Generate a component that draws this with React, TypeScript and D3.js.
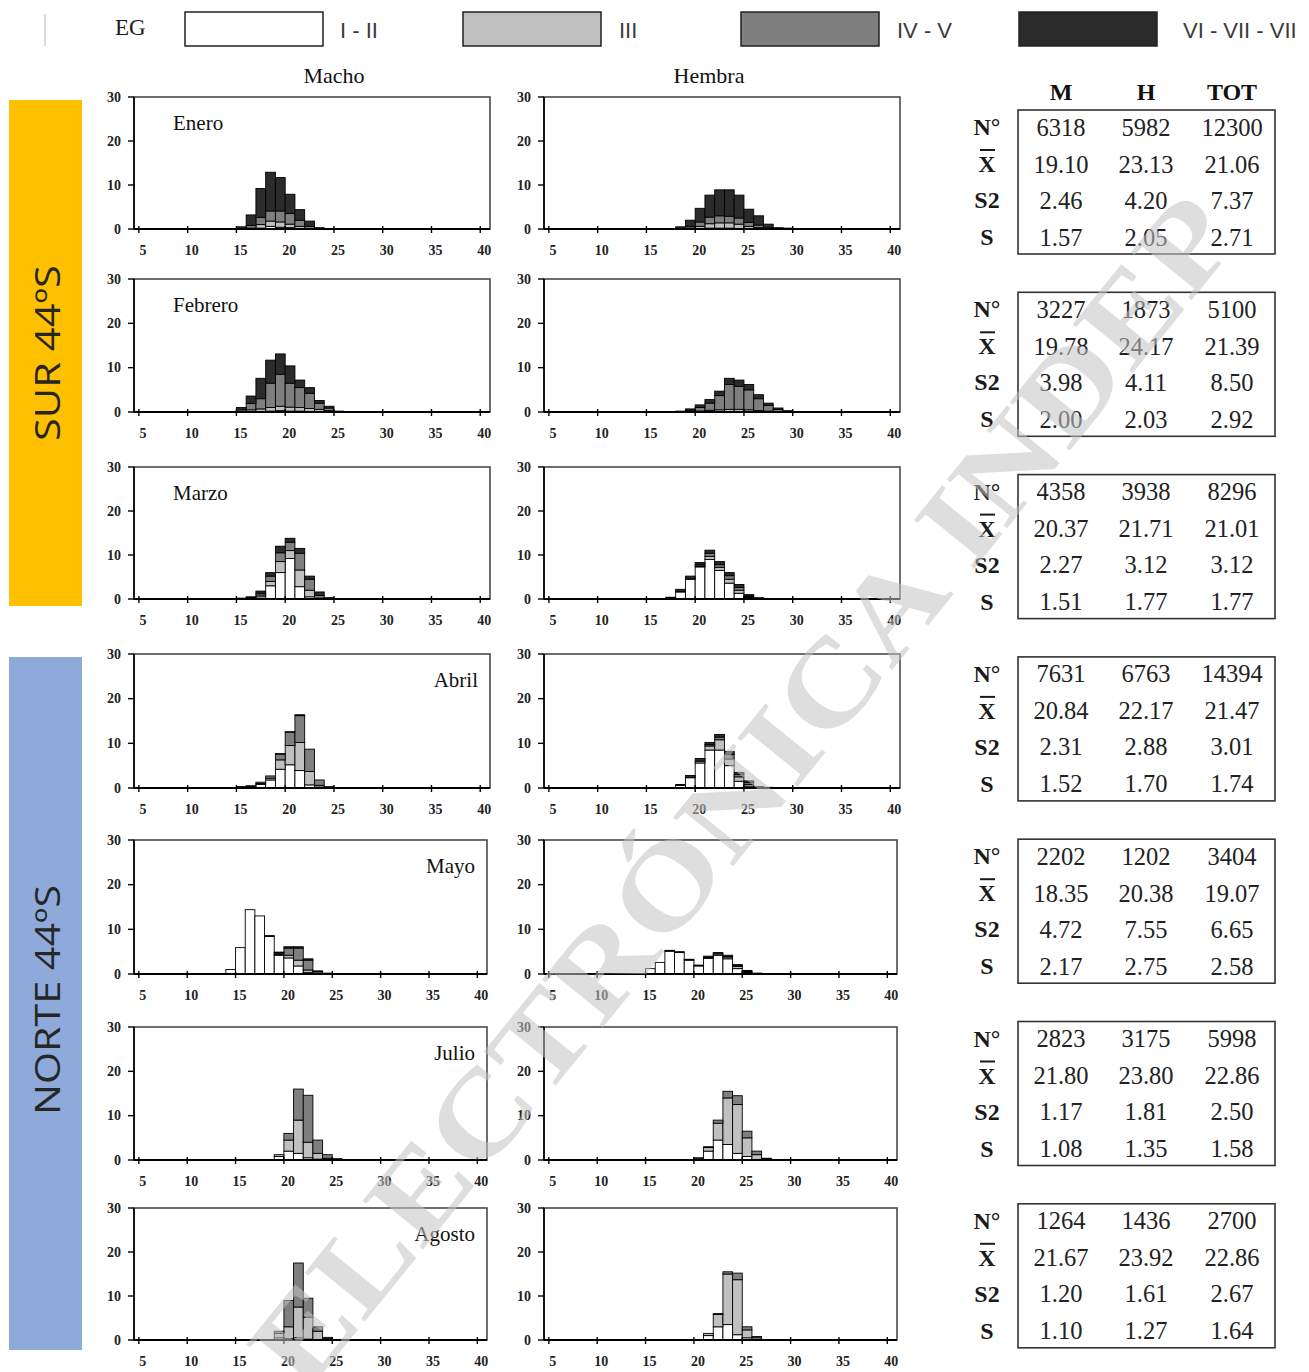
import React from 'react';
import * as d3 from 'd3';

// Each row: [length bin start, I-II, III, IV-V, VI-VII-VIII] (% of month total)
type Row = [number, number, number, number, number];

const stageKeys = ['I', 'III', 'IV', 'VI'];
const stageLabels = ['I - II', 'III', 'IV - V', 'VI - VII - VII'];
const stageFills = ['#ffffff', '#c0c0c0', '#7f7f7f', '#2b2b2b'];

const months = ['Enero', 'Febrero', 'Marzo', 'Abril', 'Mayo', 'Julio', 'Agosto'];
const xTicks = [5, 10, 15, 20, 25, 30, 35, 40];
const yTicks = [0, 10, 20, 30];

const eneroMacho: Row[] = [
  [14, 0, 0, 0, 0.1], [15, 0, 0, 0.1, 0.4], [16, 0, 0.2, 0.6, 2.4], [17, 0.2, 0.8, 1.6, 6.6],
  [18, 0.6, 1.2, 2.3, 8.8], [19, 0.4, 1.2, 2.5, 7.6], [20, 0.3, 0.8, 2.4, 4.4], [21, 0.1, 0.5, 1.4, 2.4],
  [22, 0, 0.1, 0.5, 1.2], [23, 0, 0, 0.1, 0.2], [24, 0, 0, 0, 0.1], [25, 0, 0, 0, 0.1], [26, 0, 0, 0, 0.05],
];
const eneroHembra: Row[] = [
  [16, 0, 0, 0, 0.05], [17, 0, 0, 0, 0.1], [18, 0, 0, 0.1, 0.4], [19, 0, 0.2, 0.4, 1.4],
  [20, 0.1, 0.5, 1.0, 3.1], [21, 0.2, 1.0, 1.5, 5.0], [22, 0.2, 1.2, 1.6, 5.9], [23, 0.2, 1.2, 1.5, 6.0],
  [24, 0.1, 1.0, 1.4, 5.2], [25, 0.1, 0.5, 0.9, 3.0], [26, 0, 0.3, 0.6, 2.1], [27, 0, 0.1, 0.2, 0.8],
  [28, 0, 0, 0.1, 0.2], [29, 0, 0, 0, 0.2], [30, 0, 0, 0, 0.1], [31, 0, 0, 0, 0.1],
];
const febreroMacho: Row[] = [
  [14, 0, 0, 0, 0.1], [15, 0, 0.1, 0.4, 0.5], [16, 0.1, 0.4, 1.4, 1.7], [17, 0.1, 0.6, 2.3, 4.6],
  [18, 0.2, 0.8, 5.5, 5.2], [19, 0.3, 1.0, 7.2, 4.6], [20, 0.2, 0.9, 5.4, 3.9], [21, 0.2, 0.8, 4.5, 1.7],
  [22, 0.1, 0.7, 3.4, 1.3], [23, 0.1, 0.5, 1.4, 0.6], [24, 0, 0.3, 0.6, 0.4], [25, 0, 0, 0.1, 0.1],
  [26, 0, 0, 0, 0.1], [27, 0, 0, 0, 0.1],
];
const febreroHembra: Row[] = [
  [16, 0, 0, 0, 0.05], [17, 0, 0, 0, 0.1], [18, 0, 0, 0.1, 0.1], [19, 0, 0.1, 0.3, 0.3],
  [20, 0, 0.2, 0.8, 0.6], [21, 0.1, 0.3, 1.6, 0.8], [22, 0.1, 0.4, 3.2, 1.0], [23, 0.1, 0.5, 5.6, 1.4],
  [24, 0.1, 0.5, 5.2, 1.4], [25, 0.1, 0.4, 4.5, 1.2], [26, 0, 0.3, 2.7, 0.9], [27, 0, 0.2, 1.3, 0.5],
  [28, 0, 0.1, 0.5, 0.3], [29, 0, 0, 0.1, 0.2], [30, 0, 0, 0, 0.1], [31, 0, 0, 0, 0.1],
];
const marzoMacho: Row[] = [
  [8, 0.05, 0, 0, 0], [9, 0.05, 0, 0, 0], [14, 0, 0, 0, 0.1], [15, 0.05, 0, 0.05, 0.1],
  [16, 0.1, 0.1, 0.1, 0.2], [17, 0.5, 0.4, 0.4, 0.5], [18, 3.0, 1.0, 1.2, 0.8], [19, 6.0, 2.5, 2.0, 1.5],
  [20, 9.2, 1.8, 1.9, 0.9], [21, 2.8, 3.8, 3.8, 1.1], [22, 0.5, 1.5, 2.5, 0.7], [23, 0, 0.2, 0.6, 0.8],
  [24, 0, 0, 0.1, 0.2], [25, 0, 0, 0, 0.1], [26, 0, 0, 0, 0.1], [27, 0, 0, 0, 0.1],
];
const marzoHembra: Row[] = [
  [9, 0.05, 0, 0, 0], [15, 0.05, 0, 0, 0], [16, 0.1, 0, 0, 0], [17, 0.3, 0, 0, 0.1],
  [18, 1.6, 0, 0.1, 0.5], [19, 4.5, 0, 0.1, 0.6], [20, 7.3, 0.2, 0.3, 0.5], [21, 9.0, 0.7, 0.7, 0.7],
  [22, 6.5, 0.7, 0.6, 0.7], [23, 3.6, 0.9, 0.8, 0.7], [24, 1.3, 0.7, 0.6, 0.7], [25, 0.3, 0.2, 0.2, 0.3],
  [26, 0, 0, 0.1, 0.2], [27, 0, 0, 0, 0.1], [28, 0, 0, 0, 0.1], [29, 0, 0, 0, 0.1],
];
const abrilMacho: Row[] = [
  [8, 0, 0, 0, 0.05], [12, 0.05, 0, 0, 0], [13, 0.05, 0, 0, 0], [14, 0.05, 0, 0, 0],
  [15, 0.2, 0, 0, 0.1], [16, 0.3, 0.1, 0.1, 0], [17, 0.8, 0.2, 0.3, 0], [18, 1.8, 0.4, 0.5, 0],
  [19, 4.2, 2.1, 1.3, 0.1], [20, 5.2, 4.3, 3.0, 0.1], [21, 3.9, 6.3, 6.0, 0.2], [22, 0.7, 3.0, 5.0, 0],
  [23, 0.2, 0.4, 1.2, 0], [24, 0, 0.1, 0.2, 0], [25, 0, 0, 0.1, 0], [26, 0, 0, 0.1, 0], [27, 0, 0, 0.05, 0],
];
const abrilHembra: Row[] = [
  [12, 0.05, 0, 0, 0], [13, 0.05, 0, 0, 0], [14, 0.05, 0, 0, 0], [15, 0.05, 0, 0, 0],
  [16, 0.05, 0, 0, 0], [17, 0.1, 0, 0, 0], [18, 0.6, 0, 0, 0.2], [19, 2.3, 0, 0, 0.5],
  [20, 5.6, 0.4, 0, 0.6], [21, 8.5, 0.9, 0.3, 0.5], [22, 8.5, 2.3, 0.6, 0.6], [23, 5.0, 1.5, 1.0, 0.7],
  [24, 1.5, 1.0, 0.5, 0.5], [25, 0.4, 0.4, 0.4, 0.4], [26, 0, 0.1, 0.1, 0.1], [27, 0, 0, 0.1, 0.05],
  [28, 0, 0, 0, 0.1],
];
const mayoMacho: Row[] = [
  [11, 0.1, 0, 0, 0], [12, 0.1, 0, 0, 0], [13, 0.1, 0, 0, 0], [14, 1.0, 0, 0, 0],
  [15, 5.9, 0, 0, 0], [16, 14.4, 0, 0, 0], [17, 13.0, 0, 0, 0], [18, 8.4, 0, 0, 0.2],
  [19, 4.2, 0.2, 0.3, 0.2], [20, 3.6, 0.6, 1.6, 0.3], [21, 1.8, 1.3, 2.7, 0.3], [22, 0.3, 0.6, 2.2, 0.3],
  [23, 0, 0.1, 0.4, 0.2], [24, 0, 0, 0.1, 0.1],
];
const mayoHembra: Row[] = [
  [15, 1.2, 0, 0, 0], [16, 2.6, 0, 0, 0], [17, 5.1, 0, 0, 0.2], [18, 4.8, 0, 0, 0.2],
  [19, 3.1, 0, 0, 0.2], [20, 1.8, 0, 0, 0.2], [21, 3.5, 0.2, 0, 0.3], [22, 4.2, 0.3, 0, 0.3],
  [23, 3.4, 0.4, 0.1, 0.3], [24, 1.2, 0.5, 0.2, 0.2], [25, 0.3, 0.2, 0.1, 0.2], [26, 0, 0, 0.1, 0.1],
  [27, 0, 0, 0, 0.1], [28, 0, 0, 0, 0.1],
];
const julioMacho: Row[] = [
  [19, 0.8, 0.4, 0, 0], [20, 2.0, 2.5, 1.5, 0], [21, 1.5, 7.5, 7.0, 0], [22, 0.5, 3.5, 10.6, 0],
  [23, 0.2, 1.3, 3.0, 0], [24, 0, 0.4, 0.8, 0], [25, 0, 0.1, 0.2, 0],
];
const julioHembra: Row[] = [
  [20, 0.4, 0.1, 0, 0], [21, 2.0, 0.8, 0.2, 0], [22, 4.5, 3.8, 0.7, 0], [23, 3.5, 10.5, 1.5, 0],
  [24, 1.5, 11.0, 2.0, 0], [25, 0.8, 4.2, 1.5, 0], [26, 0.1, 1.1, 0.8, 0], [27, 0, 0.2, 0.2, 0],
];
const agostoMacho: Row[] = [
  [19, 0.5, 1.0, 0.5, 0], [20, 0.3, 2.7, 6.0, 0], [21, 0.5, 7.0, 10.0, 0], [22, 0.2, 5.0, 4.3, 0],
  [23, 0, 2.0, 1.0, 0], [24, 0, 0.3, 0.3, 0], [25, 0, 0, 0.1, 0],
];
const agostoHembra: Row[] = [
  [21, 1.0, 0.5, 0, 0], [22, 3.0, 2.8, 0.2, 0], [23, 3.5, 11.5, 0.5, 0], [24, 1.2, 12.5, 1.5, 0],
  [25, 0.5, 1.8, 0.7, 0], [26, 0, 0.5, 0.3, 0],
];

const maleSeries = [eneroMacho, febreroMacho, marzoMacho, abrilMacho, mayoMacho, julioMacho, agostoMacho];
const femaleSeries = [eneroHembra, febreroHembra, marzoHembra, abrilHembra, mayoHembra, julioHembra, agostoHembra];

// Summary table per month: columns M, H, TOT
const statsN = [
  [6318, 5982, 12300], [3227, 1873, 5100], [4358, 3938, 8296], [7631, 6763, 14394],
  [2202, 1202, 3404], [2823, 3175, 5998], [1264, 1436, 2700],
];
const statsMean = [
  [19.10, 23.13, 21.06], [19.78, 24.17, 21.39], [20.37, 21.71, 21.01], [20.84, 22.17, 21.47],
  [18.35, 20.38, 19.07], [21.80, 23.80, 22.86], [21.67, 23.92, 22.86],
];
const statsVar = [
  [2.46, 4.20, 7.37], [3.98, 4.11, 8.50], [2.27, 3.12, 3.12], [2.31, 2.88, 3.01],
  [4.72, 7.55, 6.65], [1.17, 1.81, 2.50], [1.20, 1.61, 2.67],
];
const statsSd = [
  [1.57, 2.05, 2.71], [2.00, 2.03, 2.92], [1.51, 1.77, 1.77], [1.52, 1.70, 1.74],
  [2.17, 2.75, 2.58], [1.08, 1.35, 1.58], [1.10, 1.27, 1.64],
];
const tableHeaders = ['M', 'H', 'TOT'];
const rowLabels = ['N°', 'X', 'S2', 'S'];

// Layout
const W = 1309;
const H = 1372;
const rowTops = [97, 279, 467, 654, 840, 1027, 1208];
const rowBases = [229, 412, 599, 788, 974, 1160, 1340];
const rowWidths = [356, 356, 356, 356, 353, 353, 353];
const colLeft = [134, 544];
const serif = "'Liberation Serif', 'Times New Roman', serif";
const narrow = "'Liberation Sans Narrow', 'Liberation Sans', Arial, sans-serif";

type PanelProps = { rows: Row[]; left: number; width: number; top: number; base: number; label?: string; labelRight?: boolean };

function Panel({ rows, left, width, top, base, label, labelRight }: PanelProps) {
  const right = left + width;
  const x = d3.scaleLinear().domain([4.5, 41]).range([left, right]);
  const y = d3.scaleLinear().domain([0, 30]).range([base, top]);
  const objs = rows.map((r) => ({ bin: r[0], I: r[1], III: r[2], IV: r[3], VI: r[4] }));
  const series = d3.stack<any>().keys(stageKeys)(objs);

  return (
    <g>
      <rect x={left} y={top} width={right - left} height={base - top} fill="#fff" stroke="#4a4a4a" strokeWidth={1.6} />
      {series.map((s, k) =>
        s.map((d, i) => {
          if (d[1] - d[0] <= 0) return null;
          const b = (d.data as any).bin as number;
          return (
            <rect
              key={`${k}-${i}`}
              x={x(b)}
              y={y(d[1])}
              width={x(b + 1) - x(b)}
              height={y(d[0]) - y(d[1])}
              fill={stageFills[k]}
              stroke="#000"
              strokeWidth={0.9}
            />
          );
        })
      )}
      <line x1={left} x2={right} y1={base} y2={base} stroke="#000" strokeWidth={2} />
      <line x1={left} x2={left} y1={top} y2={base} stroke="#000" strokeWidth={1.6} />
      {yTicks.map((t) => (
        <g key={`y${t}`}>
          <line x1={left - 6} x2={left} y1={y(t)} y2={y(t)} stroke="#000" strokeWidth={1.4} />
          <text x={left - 13} y={y(t)} textAnchor="end" dominantBaseline="central" fontFamily={serif} fontWeight="bold" fontSize={14} fill="#222">
            {t}
          </text>
        </g>
      ))}
      {xTicks.map((t) => (
        <g key={`x${t}`}>
          <line x1={x(t)} x2={x(t)} y1={base - 3} y2={base + 4} stroke="#000" strokeWidth={1.4} />
          <text x={x(t) + 4} y={base + 21} textAnchor="middle" dominantBaseline="central" fontFamily={serif} fontWeight="bold" fontSize={14} fill="#222">
            {t}
          </text>
        </g>
      ))}
      {label && (
        <text
          x={labelRight ? right - 12 : left + 39}
          y={top + 26}
          textAnchor={labelRight ? 'end' : 'start'}
          dominantBaseline="central"
          fontFamily={serif}
          fontSize={21}
          fill="#111"
        >
          {label}
        </text>
      )}
    </g>
  );
}

function StatsTable({ i }: { i: number }) {
  const top = 110 + i * 182.3;
  const boxL = 1018;
  const boxR = 1275;
  const colX = [1061, 1146, 1232];
  const rowY = [17, 54, 90, 127].map((d) => top + d);
  const values = [
    statsN[i].map((v) => String(v)),
    statsMean[i].map((v) => v.toFixed(2)),
    statsVar[i].map((v) => v.toFixed(2)),
    statsSd[i].map((v) => v.toFixed(2)),
  ];
  return (
    <g>
      <rect x={boxL} y={top} width={boxR - boxL} height={144} fill="none" stroke="#333" strokeWidth={1.6} />
      {rowLabels.map((l, r) => (
        <g key={l}>
          <text x={987} y={rowY[r]} textAnchor="middle" dominantBaseline="central" fontFamily={serif} fontWeight="bold" fontSize={24} fill="#1a1a1a">
            {l}
          </text>
          {l === 'X' && <line x1={980} x2={995} y1={rowY[r] - 14} y2={rowY[r] - 14} stroke="#1a1a1a" strokeWidth={2} />}
          {values[r].map((v, c) => (
            <text key={c} x={colX[c]} y={rowY[r]} textAnchor="middle" dominantBaseline="central" fontFamily={serif} fontSize={24.5} fill="#222">
              {v}
            </text>
          ))}
        </g>
      ))}
    </g>
  );
}

export default function App() {
  const legendBoxX = [185, 463, 741, 1019];
  const legendTextX = [340, 619, 897, 1183];
  return (
    <svg width={W} height={H} style={{ position: 'absolute', left: 0, top: 0, background: '#fff' }}>
      <rect x={0} y={0} width={W} height={H} fill="#fff" />
      <line x1={45} x2={45} y1={14} y2={46} stroke="#cfcfcf" strokeWidth={1.5} />

      {/* Legend: gonadal stages */}
      <text x={115} y={27} dominantBaseline="central" fontFamily={serif} fontSize={23} fill="#1a1a1a">EG</text>
      {stageLabels.map((s, k) => (
        <g key={s}>
          <rect x={legendBoxX[k]} y={12} width={138} height={34} fill={stageFills[k]} stroke="#222" strokeWidth={1.5} />
          <text x={legendTextX[k]} y={30} dominantBaseline="central" fontFamily={narrow} fontSize={22} fill="#3a3a3a">
            {s}
          </text>
        </g>
      ))}

      {/* Zone bands */}
      <rect x={9} y={100} width={73} height={506} fill="#ffc000" />
      <rect x={9} y={657} width={73} height={693} fill="#8eaadb" />
      <text transform="translate(47,353) rotate(-90)" textAnchor="middle" dominantBaseline="central" fontFamily="'Open Sans', 'Noto Sans', sans-serif" fontSize={34} fill="#262626" textLength={176} lengthAdjust="spacingAndGlyphs">
        SUR 44ºS
      </text>
      <text transform="translate(47,1000) rotate(-90)" textAnchor="middle" dominantBaseline="central" fontFamily="'Open Sans', 'Noto Sans', sans-serif" fontSize={34} fill="#262626" textLength={230} lengthAdjust="spacingAndGlyphs">
        NORTE 44ºS
      </text>

      {/* Column headers */}
      <text x={334} y={75} textAnchor="middle" dominantBaseline="central" fontFamily={serif} fontSize={22} fill="#111">Macho</text>
      <text x={709} y={75} textAnchor="middle" dominantBaseline="central" fontFamily={serif} fontSize={22} fill="#111">Hembra</text>
      {tableHeaders.map((h, c) => (
        <text key={h} x={[1061, 1146, 1232][c]} y={92} textAnchor="middle" dominantBaseline="central" fontFamily={serif} fontWeight="bold" fontSize={24} fill="#111">
          {h}
        </text>
      ))}

      {months.map((m, i) => (
        <g key={m}>
          <Panel rows={maleSeries[i]} left={colLeft[0]} width={rowWidths[i]} top={rowTops[i]} base={rowBases[i]} label={m} labelRight={i >= 3} />
          <Panel rows={femaleSeries[i]} left={colLeft[1]} width={rowWidths[i]} top={rowTops[i]} base={rowBases[i]} />
          <StatsTable i={i} />
        </g>
      ))}

      {/* Watermark */}
      <text
        transform="translate(305,1395) rotate(-51)"
        fontFamily={serif}
        fontWeight="bold"
        fontSize={118}
        fill="#c4c4c4"
        opacity={0.55}
        textLength={1490}
        lengthAdjust="spacingAndGlyphs"
      >
        ELECTRÓNICA INDEP
      </text>
    </svg>
  );
}
